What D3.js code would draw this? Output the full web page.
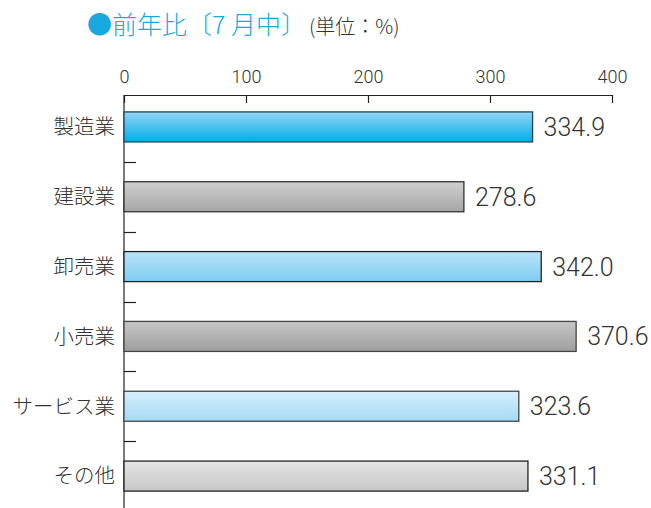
<!DOCTYPE html>
<html>
<head>
<meta charset="utf-8">
<script src="https://cdn.jsdelivr.net/npm/d3@7"></script>
<style>
  body { margin: 0; background: #fff; }
  svg text { font-family: "Noto Sans CJK JP", "Noto Sans", sans-serif; }
  svg text.num { font-family: Roboto, "Liberation Sans", sans-serif; font-weight: 300; }
</style>
</head>
<body>
<svg id="chart" width="651" height="508"></svg>
<script>
var categories = ['製造業', '建設業', '卸売業', '小売業', 'サービス業', 'その他'];
var values = [334.9, 278.6, 342.0, 370.6, 323.6, 331.1];
var tickValues = [0, 100, 200, 300, 400];
var barTop = ['#92d4f5', '#d0d0d0', '#b8e3f9', '#c6c6c6', '#d6effc', '#e6e6e6'];
var barBottom = ['#00aeea', '#a6a6a6', '#7fcdf2', '#9e9e9e', '#a4daf5', '#c6c6c6'];
var barStroke = ['#1d4657', '#333', '#222', '#444', '#444', '#222'];

var svg = d3.select('#chart');

var x = d3.scaleLinear().domain([0, 400]).range([124, 612]);
var y = d3.scaleBand().domain(categories).range([92, 511])
  .paddingInner(0.57).paddingOuter(0.285);

// gradients
var defs = svg.append('defs');
categories.forEach(function(c, i) {
  var g = defs.append('linearGradient')
    .attr('id', 'g' + i)
    .attr('x1', 0).attr('y1', 0).attr('x2', 0).attr('y2', 1);
  g.append('stop').attr('offset', '0%').attr('stop-color', barTop[i]);
  g.append('stop').attr('offset', '100%').attr('stop-color', barBottom[i]);
});

// title
var title = svg.append('text')
  .attr('x', 87)
  .attr('y', 34)
  .style('font-weight', 300);
title.append('tspan')
  .attr('fill', '#18a9e1')
  .style('font-size', '25px')
  .text('●前年比〔7 月中〕');
title.append('tspan')
  .attr('fill', '#333')
  .attr('dx', 3)
  .style('font-size', '20px')
  .text('(単位：%)');

// top axis
var xAxis = d3.axisTop(x)
  .tickValues(tickValues)
  .tickSize(-8)
  .tickPadding(10)
  .tickSizeOuter(0);

var gx = svg.append('g')
  .attr('transform', 'translate(0,95)')
  .call(xAxis);
gx.select('.domain').attr('stroke', '#222').attr('stroke-width', 1.2);
gx.selectAll('.tick line').attr('stroke', '#222').attr('stroke-width', 1.2);
gx.selectAll('.tick text')
  .attr('class', 'num')
  .attr('y', -12)
  .attr('fill', '#333')
  .style('font-size', '18px');

// vertical axis line
svg.append('line')
  .attr('x1', x(0)).attr('x2', x(0))
  .attr('y1', 95).attr('y2', 508)
  .attr('stroke', '#222').attr('stroke-width', 1.2);

// separator ticks between categories
var sepY = function(d) { return Math.round(y(d) - y.step() * y.paddingInner() / 2) + 0.5; };
svg.selectAll('line.sep')
  .data(categories.slice(1))
  .enter().append('line')
    .attr('class', 'sep')
    .attr('x1', x(0)).attr('x2', x(0) + 12)
    .attr('y1', sepY)
    .attr('y2', sepY)
    .attr('stroke', '#222').attr('stroke-width', 1.2);

// bars
svg.selectAll('rect.bar')
  .data(values)
  .enter().append('rect')
    .attr('class', 'bar')
    .attr('x', x(0))
    .attr('y', function(d, i) { return y(categories[i]); })
    .attr('width', function(d) { return x(d) - x(0); })
    .attr('height', y.bandwidth())
    .attr('fill', function(d, i) { return 'url(#g' + i + ')'; })
    .attr('stroke', function(d, i) { return barStroke[i]; })
    .attr('stroke-width', 1.3);

// value labels
svg.selectAll('text.val')
  .data(values)
  .enter().append('text')
    .attr('class', 'val num')
    .attr('x', function(d) { return x(d) + 11; })
    .attr('y', function(d, i) { return y(categories[i]) + y.bandwidth() / 2; })
    .attr('dy', '0.36em')
    .attr('fill', '#333')
    .style('font-size', '25px')
    .text(function(d) { return d.toFixed(1); });

// category labels
svg.selectAll('text.cat')
  .data(categories)
  .enter().append('text')
    .attr('class', 'cat')
    .attr('x', 115)
    .attr('y', function(d) { return y(d) + y.bandwidth() / 2; })
    .attr('dy', '0.36em')
    .attr('text-anchor', 'end')
    .attr('fill', '#333')
    .style('font-size', '20.5px')
    .style('font-weight', 300)
    .text(function(d) { return d; });
</script>
</body>
</html>
